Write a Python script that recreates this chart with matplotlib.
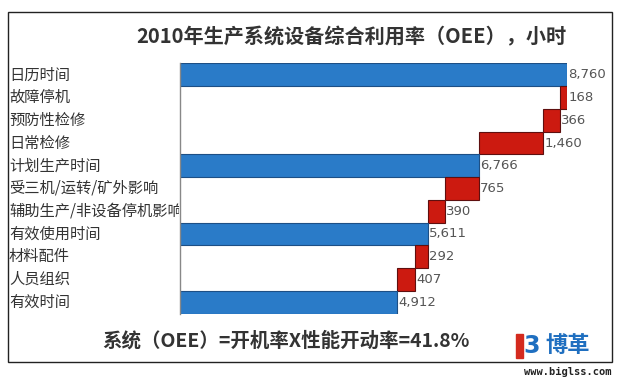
"""Waterfall chart of 2010 OEE hours."""
import matplotlib
matplotlib.use("Agg")
import matplotlib.pyplot as plt
from matplotlib.patches import Rectangle
from matplotlib.transforms import Bbox, TransformedBbox, blended_transform_factory

plt.rcParams["font.family"] = ["Noto Sans CJK SC", "DejaVu Sans"]

categories = [
    "日历时间", "故障停机", "预防性检修", "日常检修", "计划生产时间",
    "受三机/运转/矿外影响", "辅助生产/非设备停机影响", "有效使用时间",
    "材料配件", "人员组织", "有效时间",
]
values = [8760, 168, 366, 1460, 6766, 765, 390, 5611, 292, 407, 4912]
is_total = [True, False, False, False, True, False, False, True, False, False, True]

BLUE, BLUE_EDGE = "#2a7bc8", "#1d4f85"
RED, RED_EDGE = "#cc1a10", "#5e0f0f"

fig = plt.figure(figsize=(6.2, 3.8), dpi=100)
ax = fig.add_axes([180 / 620, 1 - 313.5 / 380, 387 / 620, 250 / 380])

# waterfall: totals start at zero, losses hang down from the running level
level = 0
for i, (v, tot) in enumerate(zip(values, is_total)):
    if tot:
        right = v
        level = v
        ax.barh(i, v, left=0, height=1.0, color=BLUE, edgecolor=BLUE_EDGE, linewidth=0.8)
    else:
        right = level
        ax.barh(i, v, left=level - v, height=1.0, color=RED, edgecolor=RED_EDGE, linewidth=0.8)
        level -= v
    ax.text(right + 25, i, f"{v:,}", va="center", ha="left", fontsize=9.5,
            color="#555555", family="DejaVu Sans", clip_on=False)

ax.set_xlim(0, 8760)
ax.set_ylim(len(values) - 0.5, -0.5)
ax.set_xticks([])
ax.set_yticks([])
for side in ("top", "right", "bottom"):
    ax.spines[side].set_visible(False)
ax.spines["left"].set_color("#888888")
ax.spines["left"].set_linewidth(1.0)

# category labels, clipped at the axis like the original
trans = blended_transform_factory(fig.transFigure, ax.transData)
clip_box = TransformedBbox(Bbox([[0, 0], [179 / 620, 1]]), fig.transFigure)
for i, name in enumerate(categories):
    t = ax.text(9 / 620, i, name, transform=trans, va="center", ha="left",
                fontsize=11, color="#333333")
    t.set_clip_on(True)
    t.set_clip_path(None)
    t.set_clip_box(clip_box)

fig.text(351 / 620, 1 - 37 / 380, "2010年生产系统设备综合利用率（OEE），小时",
         ha="center", va="center", fontsize=14.5, fontweight="bold", color="#333333")
fig.text(286 / 620, 1 - 341 / 380, "系统（OEE）=开机率X性能开动率=41.8%",
         ha="center", va="center", fontsize=14, fontweight="bold", color="#333333")

# outer frame
fig.add_artist(Rectangle((8 / 620, 1 - 362 / 380), 604 / 620, 350 / 380,
                         transform=fig.transFigure, fill=False,
                         edgecolor="#222222", linewidth=1.0))

# logo
fig.add_artist(Rectangle((516 / 620, 1 - 358 / 380), 7 / 620, 24 / 380,
                         transform=fig.transFigure, color="#d42a1e"))
fig.text(523 / 620, 1 - 346 / 380, "3", ha="left", va="center", fontsize=17,
         fontweight="bold", color="#1f6fc0", family="DejaVu Sans")
fig.text(545 / 620, 1 - 346 / 380, "博革", ha="left", va="center", fontsize=16,
         fontweight="bold", color="#1f6fc0")
fig.text(611 / 620, 1 - 372 / 380, "www.biglss.com", ha="right", va="center",
         fontsize=7.5, fontweight="bold", color="#222222", family="DejaVu Sans Mono")

fig.savefig("out.png", dpi=100)
